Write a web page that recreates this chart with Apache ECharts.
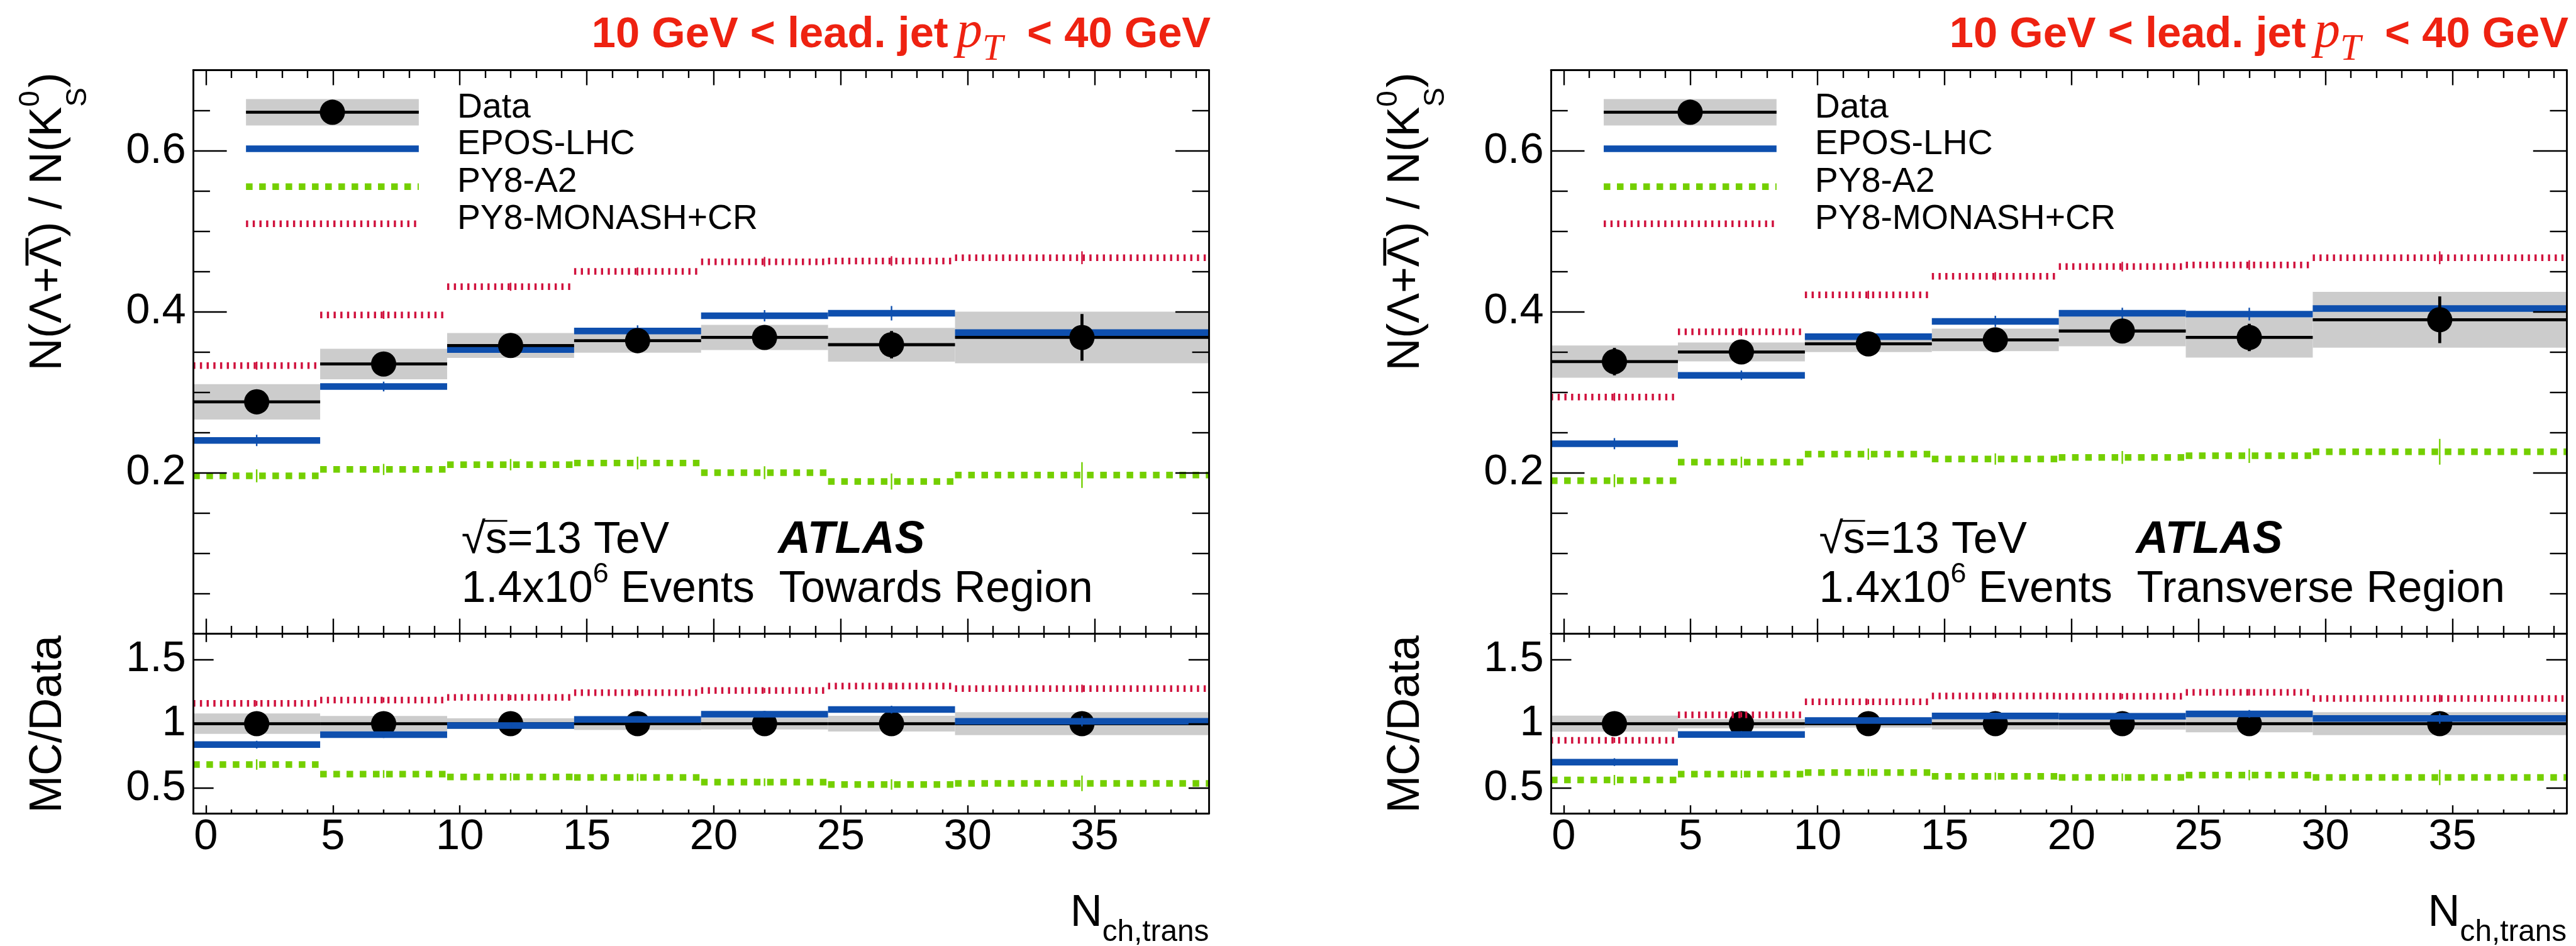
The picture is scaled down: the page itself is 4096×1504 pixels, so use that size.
<!DOCTYPE html>
<html><head><meta charset="utf-8">
<script src="https://cdn.jsdelivr.net/npm/echarts@6/dist/echarts.min.js"></script>
<style>html,body{margin:0;padding:0;background:#fff;overflow:hidden}#c{width:4096px;height:1504px}</style>
</head><body><div id="c"></div>
<script>
// ---------------- data ----------------
const binLo = [-0.5, 4.5, 9.5, 14.5, 19.5, 24.5, 29.5];
const binHi = [4.5, 9.5, 14.5, 19.5, 24.5, 29.5, 39.5];
const pointX = [2, 7, 12, 17, 22, 27, 34.5];
const xMajorTicks = [0, 5, 10, 15, 20, 25, 30, 35];
const xMinorTicks = [1,2,3,4,6,7,8,9,11,12,13,14,16,17,18,19,21,22,23,24,26,27,28,29,31,32,33,34,36,37,38,39];
const yMainMajorTicks = [0.2, 0.4, 0.6];
const yMainMinorTicks = [0.05, 0.1, 0.15, 0.25, 0.3, 0.35, 0.45, 0.5, 0.55, 0.65];
const yRatioMajorTicks = [0.5, 1, 1.5];
const legendNames = ['Data', 'EPOS-LHC', 'PY8-A2', 'PY8-MONASH+CR'];

// Towards region
const towardsData   = [0.288, 0.335, 0.358, 0.364, 0.368, 0.359, 0.368];
const towardsStat   = [0.008, 0.008, 0.008, 0.009, 0.010, 0.017, 0.029];
const towardsSyst   = [0.022, 0.019, 0.0155, 0.015, 0.0157, 0.021, 0.032];
const towardsEpos   = [0.240, 0.307, 0.353, 0.376, 0.395, 0.398, 0.374];
const towardsEposErr= [0.007, 0.006, 0.006, 0.007, 0.007, 0.009, 0.010];
const towardsA2     = [0.196, 0.204, 0.210, 0.212, 0.200, 0.189, 0.197];
const towardsA2Err  = [0.008, 0.007, 0.007, 0.008, 0.008, 0.010, 0.016];
const towardsMonash = [0.333, 0.396, 0.431, 0.450, 0.462, 0.463, 0.467];
const towardsMonashErr = [0.005, 0.005, 0.005, 0.005, 0.006, 0.006, 0.008];
const towardsRatioData = [1, 1, 1, 1, 1, 1, 1];
const towardsRatioStat = [0.028, 0.024, 0.022, 0.025, 0.027, 0.047, 0.079];
const towardsRatioBand = [0.079, 0.060, 0.042, 0.049, 0.0455, 0.061, 0.089];
const towardsRatioEpos = [0.837, 0.914, 0.985, 1.033, 1.074, 1.110, 1.019];
const towardsRatioEposErr = [0.03, 0.025, 0.02, 0.02, 0.025, 0.03, 0.04];
const towardsRatioA2 = [0.682, 0.608, 0.586, 0.582, 0.545, 0.527, 0.536];
const towardsRatioA2Err = [0.04, 0.03, 0.03, 0.03, 0.03, 0.04, 0.06];
const towardsRatioMonash = [1.158, 1.184, 1.204, 1.241, 1.258, 1.292, 1.273];
const towardsRatioMonashErr = [0.02, 0.02, 0.02, 0.02, 0.02, 0.025, 0.03];

// Transverse region
const transverseData   = [0.338, 0.350, 0.360, 0.365, 0.376, 0.368, 0.390];
const transverseStat   = [0.017, 0.010, 0.009, 0.010, 0.011, 0.017, 0.029];
const transverseSyst   = [0.020, 0.0117, 0.0102, 0.014, 0.019, 0.025, 0.0347];
const transverseEpos   = [0.236, 0.321, 0.369, 0.388, 0.398, 0.397, 0.404];
const transverseEposErr= [0.007, 0.006, 0.006, 0.007, 0.007, 0.008, 0.010];
const transverseA2     = [0.190, 0.213, 0.223, 0.217, 0.219, 0.221, 0.226];
const transverseA2Err  = [0.008, 0.007, 0.007, 0.007, 0.008, 0.009, 0.016];
const transverseMonash = [0.294, 0.375, 0.421, 0.444, 0.456, 0.458, 0.467];
const transverseMonashErr = [0.005, 0.005, 0.005, 0.005, 0.006, 0.006, 0.008];
const transverseRatioData = [1, 1, 1, 1, 1, 1, 1];
const transverseRatioStat = [0.050, 0.029, 0.025, 0.027, 0.029, 0.046, 0.074];
const transverseRatioBand = [0.062, 0.036, 0.030, 0.045, 0.046, 0.067, 0.089];
const transverseRatioEpos = [0.701, 0.916, 1.024, 1.060, 1.057, 1.076, 1.040];
const transverseRatioEposErr = [0.03, 0.025, 0.02, 0.02, 0.025, 0.03, 0.04];
const transverseRatioA2 = [0.562, 0.607, 0.620, 0.591, 0.582, 0.600, 0.582];
const transverseRatioA2Err = [0.04, 0.03, 0.03, 0.03, 0.03, 0.04, 0.06];
const transverseRatioMonash = [0.871, 1.069, 1.170, 1.215, 1.213, 1.244, 1.196];
const transverseRatioMonashErr = [0.02, 0.02, 0.02, 0.02, 0.02, 0.025, 0.03];

// ---------------- styling / layout ----------------
const S = 0.954;
const s = v => v * S;
const SANS = 'Liberation Sans', SERIF = 'Liberation Serif';
const RED_T = '#ee2211', C_EPOS = '#0e4fae', C_A2 = '#74cf00', C_MON = '#d0103c', GRAY = '#cccccc';

const mctx = document.createElement('canvas').getContext('2d');
function fontStr(size, fam, weight, style) { return (style || 'normal') + ' ' + (weight || 'normal') + ' ' + size + 'px "' + fam + '"'; }
function measure(t, size, fam, weight, style) { mctx.font = fontStr(size, fam, weight, style); return mctx.measureText(t).width; }
function kMid(fam) { return fam === SERIF ? 0.3375 : 0.3465; }
function mkText(x, baseline, t, size, o) {
  o = o || {};
  const fam = o.family || SANS;
  const al = o.align || 'left';
  return { type: 'text', x: x, y: baseline - kMid(fam) * size, silent: true, z: 50,
    style: { text: t, font: fontStr(size, fam, o.weight, o.style), fill: o.color || '#000',
      align: al, textAlign: al, verticalAlign: 'middle', textVerticalAlign: 'middle' } };
}
function runTotal(pieces) {
  let x = 0, held = 0;
  pieces.forEach(p => { const w = measure(p.t, p.size, p.family || SANS, p.weight, p.style) + (p.kern || 0);
    if (p.hold) held = w; else { x += Math.max(w, held); held = 0; } });
  return x;
}
function layoutRun(pieces, x, baseline) {
  const els = []; let held = 0;
  pieces.forEach(p => {
    const w0 = measure(p.t, p.size, p.family || SANS, p.weight, p.style);
    const w = w0 + (p.kern || 0);
    els.push(mkText(x, baseline + (p.dy || 0), p.t, p.size, p));
    if (p.overline) els.push({ type: 'line', silent: true, z: 50,
      shape: { x1: x + (p.olx0 || 0), y1: baseline - p.overline, x2: x + w0 + (p.olx1 || 0), y2: baseline - p.overline },
      style: { stroke: p.color || '#000', lineWidth: p.olw || s(3) } });
    if (p.hold) held = w; else { x += Math.max(w, held); held = 0; }
  });
  return els;
}

const frames = [
  { left: 322, top: 117, width: 1693, height: 939, ratio: false },
  { left: 322, top: 1056, width: 1693, height: 300, ratio: true },
  { left: 2585, top: 117, width: 1693, height: 939, ratio: false },
  { left: 2585, top: 1056, width: 1693, height: 300, ratio: true }
];

const grids = [], xAxes = [], yAxes = [], yIdx = [];
function xAxisDef(gi, pos, major, len, labels) {
  return { type: 'value', gridIndex: gi, position: pos, min: -0.5, max: 39.5, z: 10,
    axisLine: { show: major, onZero: false, lineStyle: { color: '#000', width: s(3) } },
    axisTick: { show: true, inside: true, length: s(len), customValues: major ? xMajorTicks : xMinorTicks,
      lineStyle: { color: '#000', width: s(2.5) } },
    axisLabel: { show: labels, customValues: xMajorTicks, margin: s(3), fontSize: s(72), fontFamily: SANS, color: '#000',
      formatter: v => String(+(+v).toFixed(2)) },
    splitLine: { show: false }, minorTick: { show: false } };
}
function yAxisDef(gi, pos, ticks, len, labels, range, isMajor) {
  return { type: 'value', gridIndex: gi, position: pos, min: range[0], max: range[1], z: 10,
    axisLine: { show: isMajor, onZero: false, lineStyle: { color: '#000', width: s(3) } },
    axisTick: { show: true, inside: true, length: s(len), customValues: ticks, lineStyle: { color: '#000', width: s(2.5) } },
    axisLabel: { show: labels, customValues: ticks, margin: s(12), fontSize: s(72), fontFamily: SANS, color: '#000',
      formatter: v => String(+(+v).toFixed(2)) },
    splitLine: { show: false }, minorTick: { show: false } };
}
frames.forEach((f, gi) => {
  grids.push({ left: s(f.left), top: s(f.top), width: s(f.width), height: s(f.height), show: false, containLabel: false, outerBoundsMode: 'none' });
  const majLen = f.ratio ? 14 : 25, minLen = f.ratio ? 7 : 13;
  ['bottom', 'top'].forEach(pos => {
    xAxes.push(xAxisDef(gi, pos, true, majLen, f.ratio && pos === 'bottom'));
    xAxes.push(xAxisDef(gi, pos, false, minLen, false));
  });
  yIdx[gi] = yAxes.length;
  const range = f.ratio ? [0.3, 1.7] : [0, 0.7];
  ['left', 'right'].forEach(pos => {
    yAxes.push(yAxisDef(gi, pos, f.ratio ? yRatioMajorTicks : yMainMajorTicks, f.ratio ? 34 : 56, pos === 'left', range, true));
    if (!f.ratio) yAxes.push(yAxisDef(gi, pos, yMainMinorTicks, 28, false, range, false));
  });
});

// ---------------- series ----------------
function rows(vals, errs) { return vals.map((v, i) => [binLo[i], binHi[i], v, errs[i], pointX[i]]); }
function bandRender(params, api) {
  const lo = api.coord([api.value(0), api.value(2) - api.value(3)]);
  const hi = api.coord([api.value(1), api.value(2) + api.value(3)]);
  return { type: 'rect', shape: { x: lo[0], y: hi[1], width: hi[0] - lo[0], height: lo[1] - hi[1] }, style: { fill: GRAY } };
}
function histRender(color, dash) {
  return function (params, api) {
    const y = api.value(2), e = api.value(3), xc = api.value(4);
    const a = api.coord([api.value(0), y]), b = api.coord([api.value(1), y]);
    const c0 = api.coord([xc, y - e]), c1 = api.coord([xc, y + e]);
    return { type: 'group', children: [
      { type: 'line', shape: { x1: a[0], y1: a[1], x2: b[0], y2: b[1] }, style: { stroke: color, lineWidth: s(11), lineDash: dash, lineCap: 'butt' } },
      { type: 'line', shape: { x1: c0[0], y1: c0[1], x2: c1[0], y2: c1[1] }, style: { stroke: color, lineWidth: s(2.5) } }
    ] };
  };
}
function pointRender(params, api) {
  const y = api.value(2), e = api.value(3), xc = api.value(4);
  const a = api.coord([api.value(0), y]), b = api.coord([api.value(1), y]), c = api.coord([xc, y]);
  const lo = api.coord([xc, y - e]), hi = api.coord([xc, y + e]);
  return { type: 'group', children: [
    { type: 'line', shape: { x1: a[0], y1: a[1], x2: b[0], y2: b[1] }, style: { stroke: '#000', lineWidth: s(5) } },
    { type: 'line', shape: { x1: lo[0], y1: lo[1], x2: hi[0], y2: hi[1] }, style: { stroke: '#000', lineWidth: s(5) } },
    { type: 'circle', shape: { cx: c[0], cy: c[1], r: s(21) }, style: { fill: '#000' } }
  ] };
}
const DASH_A2 = [s(11), s(11)], DASH_MON = [s(3.6), s(7.6)];
function cs(gi, name, data, render, z) {
  return { type: 'custom', name: name, xAxisIndex: gi * 4, yAxisIndex: yIdx[gi], z: z, silent: true, clip: true,
    dimensions: ['x0', 'x1', 'y', 'e', 'xc'], encode: { x: [0, 1, 4], y: [2] }, data: data, renderItem: render };
}
const panels = [
  { dx: 0, region: 'Towards Region', g: 0,
    data: towardsData, stat: towardsStat, syst: towardsSyst,
    mc: [[towardsEpos, towardsEposErr], [towardsA2, towardsA2Err], [towardsMonash, towardsMonashErr]],
    rData: towardsRatioData, rStat: towardsRatioStat, rBand: towardsRatioBand,
    rmc: [[towardsRatioEpos, towardsRatioEposErr], [towardsRatioA2, towardsRatioA2Err], [towardsRatioMonash, towardsRatioMonashErr]] },
  { dx: 2263, region: 'Transverse Region', g: 2,
    data: transverseData, stat: transverseStat, syst: transverseSyst,
    mc: [[transverseEpos, transverseEposErr], [transverseA2, transverseA2Err], [transverseMonash, transverseMonashErr]],
    rData: transverseRatioData, rStat: transverseRatioStat, rBand: transverseRatioBand,
    rmc: [[transverseRatioEpos, transverseRatioEposErr], [transverseRatioA2, transverseRatioA2Err], [transverseRatioMonash, transverseRatioMonashErr]] }
];
const mcStyles = [[C_EPOS, null], [C_A2, DASH_A2], [C_MON, DASH_MON]];
const series = [];
panels.forEach(p => {
  const g = p.g, r = p.g + 1;
  series.push(cs(g, 'Data syst', rows(p.data, p.syst), bandRender, 1));
  p.mc.forEach((m, i) => series.push(cs(g, legendNames[i + 1], rows(m[0], m[1]), histRender(mcStyles[i][0], mcStyles[i][1]), 2)));
  series.push(cs(g, 'Data', rows(p.data, p.stat), pointRender, 3));
  series.push(cs(r, 'Data syst ratio', rows(p.rData, p.rBand), bandRender, 1));
  series.push(cs(r, 'Data ratio', rows(p.rData, p.rStat), pointRender, 2));
  p.rmc.forEach((m, i) => series.push(cs(r, legendNames[i + 1] + ' ratio', rows(m[0], m[1]), histRender(mcStyles[i][0], mcStyles[i][1]), 3)));
});

// ---------------- graphic: texts & legend ----------------
const gfx = [];
panels.forEach(p => {
  const dx = p.dx;
  const fr = frames[p.g];
  const right = fr.left + fr.width;
  // title
  const tp = [
    { t: '10 GeV < lead. jet ', size: s(72), weight: 'bold', color: RED_T, kern: -s(6) },
    { t: 'p', size: s(86), family: SERIF, style: 'italic', color: RED_T },
    { t: 'T', size: s(62), family: SERIF, style: 'italic', color: RED_T, dy: s(20) },
    { t: '  < 40 GeV', size: s(72), weight: 'bold', color: RED_T }
  ];
  gfx.push(...layoutRun(tp, s(right + 3) - runTotal(tp), s(84)));
  // x title
  const xt = [{ t: 'N', size: s(74) }, { t: 'ch,trans', size: s(50), dy: s(24) }];
  gfx.push(...layoutRun(xt, s(right) - runTotal(xt), s(1548)));
  // y title main (rotated)
  const yt = [
    { t: 'N(Λ+', size: s(75) },
    { t: 'Λ', size: s(75), overline: s(62), olw: s(5), olx0: s(2), olx1: -s(2) },
    { t: ') / N(K', size: s(75) },
    { t: '0', size: s(48), dy: -s(39), hold: true },
    { t: 'S', size: s(48), dy: s(40) },
    { t: ')', size: s(75) }
  ];
  gfx.push({ type: 'group', x: s(107 + dx), y: s(121), rotation: Math.PI / 2, children: layoutRun(yt, -runTotal(yt), 0) });
  const rt = [{ t: 'MC/Data', size: s(75) }];
  gfx.push({ type: 'group', x: s(107 + dx), y: s(1059), rotation: Math.PI / 2, children: layoutRun(rt, -runTotal(rt), 0) });
  // ATLAS block
  const r1 = [
    { t: '√', size: s(73) },
    { t: 's', size: s(73), overline: s(59), olw: s(3), olx0: -s(3) },
    { t: '=13 TeV', size: s(73) }
  ];
  gfx.push(...layoutRun(r1, s(769 + dx), s(927)));
  gfx.push(mkText(s(1297 + dx), s(927), 'ATLAS', s(75), { weight: 'bold', style: 'italic' }));
  const r2 = [
    { t: '1.4x10', size: s(73) },
    { t: '6', size: s(47), dy: -s(34) },
    { t: ' Events  ' + p.region, size: s(73) }
  ];
  gfx.push(...layoutRun(r2, s(769 + dx), s(1008)));
  // legend
  const L0 = s(410 + dx), L1 = s(698 + dx);
  gfx.push({ type: 'rect', silent: true, z: 40, shape: { x: L0, y: s(165), width: L1 - L0, height: s(44) }, style: { fill: GRAY } });
  gfx.push({ type: 'line', silent: true, z: 41, shape: { x1: L0, y1: s(187), x2: L1, y2: s(187) }, style: { stroke: '#000', lineWidth: s(5) } });
  gfx.push({ type: 'circle', silent: true, z: 42, shape: { cx: s(554 + dx), cy: s(187), r: s(21) }, style: { fill: '#000' } });
  const rowsY = [187, 248, 311, 373];
  mcStyles.forEach((m, i) => {
    gfx.push({ type: 'line', silent: true, z: 41, shape: { x1: L0, y1: s(rowsY[i + 1]), x2: L1, y2: s(rowsY[i + 1]) },
      style: { stroke: m[0], lineWidth: s(11), lineDash: m[1] || null, lineCap: 'butt' } });
  });
  legendNames.forEach((n, i) => {
    gfx.push({ type: 'text', silent: true, z: 50, x: s(762 + dx), y: s(rowsY[i] - 7),
      style: { text: n, font: fontStr(s(58), SANS), fill: '#000', align: 'left', textAlign: 'left', verticalAlign: 'middle', textVerticalAlign: 'middle' } });
  });
});

const chart = echarts.init(document.getElementById('c'), null, { renderer: 'canvas', width: 4096, height: 1504 });
chart.setOption({
  animation: false,
  backgroundColor: '#ffffff',
  grid: grids,
  xAxis: xAxes,
  yAxis: yAxes,
  series: series,
  graphic: { elements: gfx }
});
</script>
</body></html>
